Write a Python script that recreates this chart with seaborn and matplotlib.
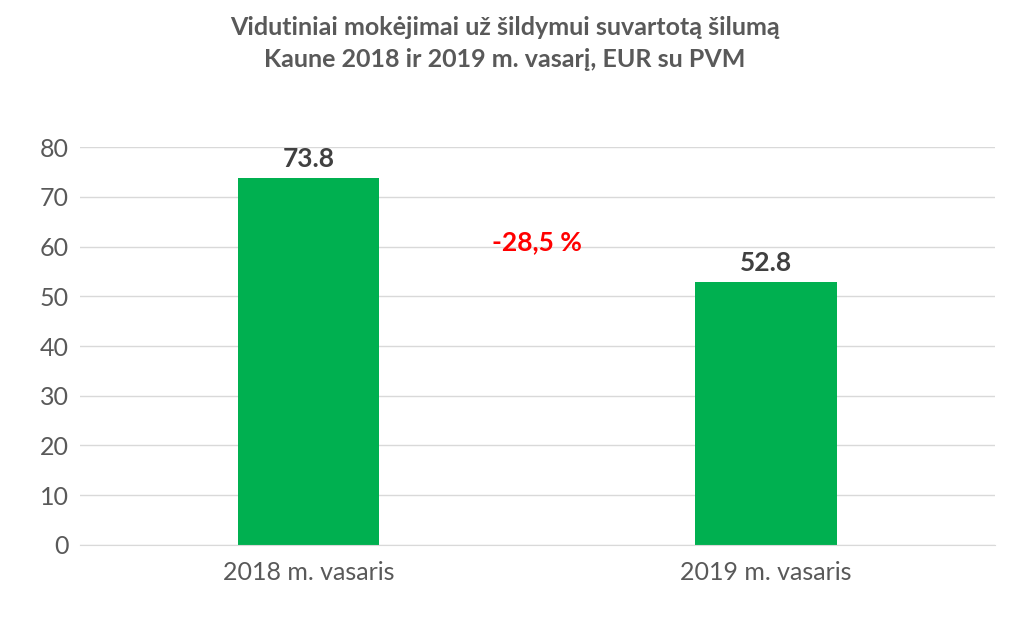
import matplotlib
matplotlib.use("Agg")
import matplotlib.pyplot as plt
import seaborn as sns
import pandas as pd

categories = ["2018 m. vasaris", "2019 m. vasaris"]
values = [73.8, 52.8]
change_label = "-28,5 %"
title = "Vidutiniai mokėjimai už šildymui suvartotą šilumą\nKaune 2018 ir 2019 m. vasarį, EUR su PVM"

plt.rcParams["font.family"] = "Lato"
df = pd.DataFrame({"cat": categories, "val": values})

fig = plt.figure(figsize=(10.09, 6.24), dpi=100)
ax = fig.add_axes([0.079, 0.127, 0.907, 0.637])
sns.barplot(data=df, x="cat", y="val", color="#00B050", width=0.31, saturation=1, ax=ax)
ax.set_ylim(0, 80)
ax.set_xlim(-0.5, 1.5)
ax.set_yticks(range(0, 81, 10))
ax.yaxis.grid(True, color="#D9D9D9", linewidth=1)
ax.set_axisbelow(True)
for s in ["top", "right", "left"]:
    ax.spines[s].set_visible(False)
ax.spines["bottom"].set_color("#D9D9D9")
ax.tick_params(axis="y", length=0, labelsize=18, labelcolor="#595959", pad=8)
ax.tick_params(axis="x", length=0, labelsize=18, labelcolor="#595959", pad=12)
ax.set_xlabel("")
ax.set_ylabel("")
for i, v in enumerate(values):
    ax.text(i, v + 1.5, f"{v:.1f}", ha="center", va="bottom", fontsize=19, fontweight="bold", color="#404040")
ax.text(0.5, 61, change_label, ha="center", va="center", fontsize=19, fontweight="bold", color="#FF0000")
fig.suptitle(title, y=0.975, fontsize=18, fontweight="bold", color="#595959", linespacing=1.5)
fig.savefig("out.png", dpi=100)
